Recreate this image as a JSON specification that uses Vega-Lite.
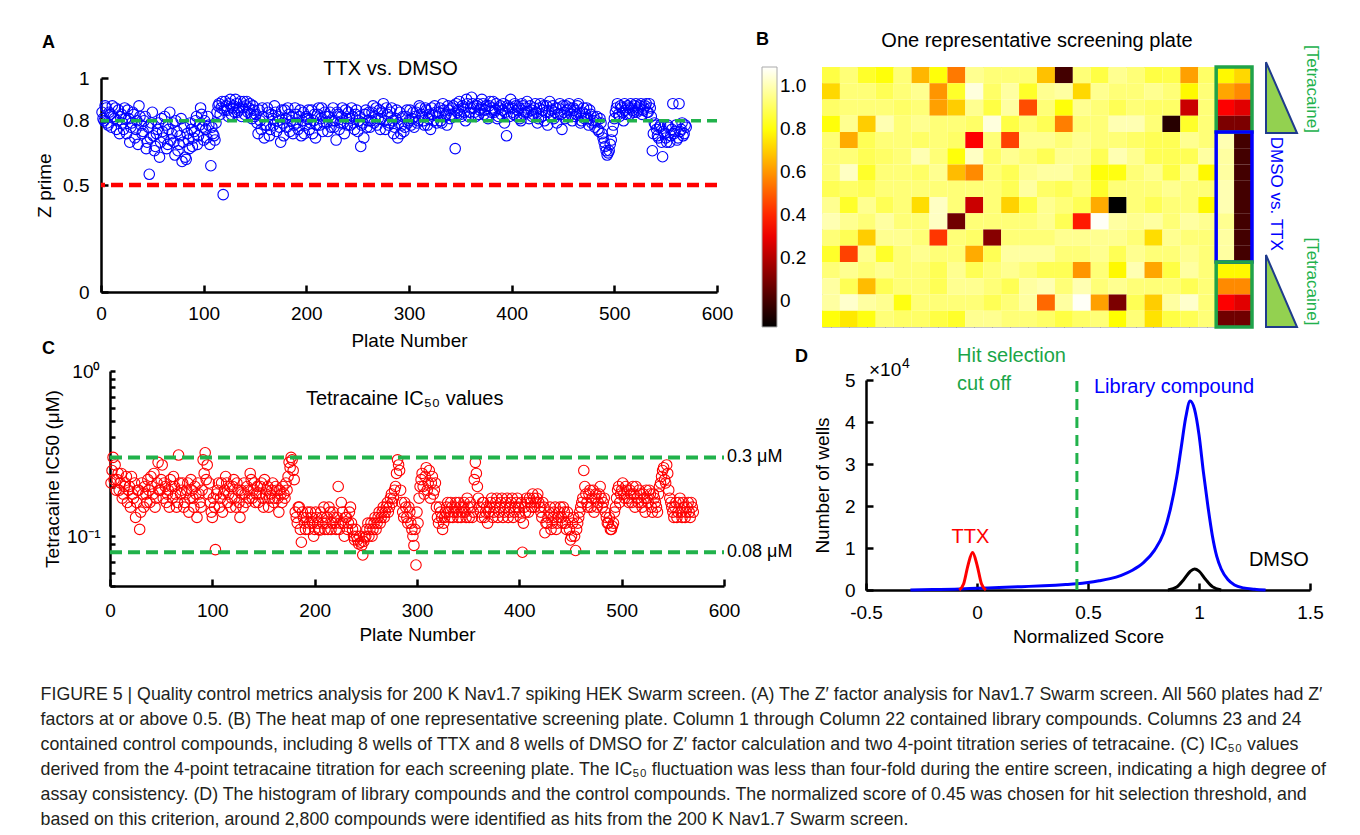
{
"$schema": "https://vega.github.io/schema/vega-lite/v6.json",
"background": "white",
"padding": {"left": 35, "top": 30, "right": 10, "bottom": 10},
"bounds": "flush",
"columns": 2,
"spacing": {"row": 44, "column": 98},
"resolve": {"scale": {"color": "independent"}, "legend": {"color": "independent"}},
"title": {"text": [
"FIGURE 5 | Quality control metrics analysis for 200 K Nav1.7 spiking HEK Swarm screen. (A) The Z′ factor analysis for Nav1.7 Swarm screen. All 560 plates had Z′",
"factors at or above 0.5. (B) The heat map of one representative screening plate. Column 1 through Column 22 contained library compounds. Columns 23 and 24",
"contained control compounds, including 8 wells of TTX and 8 wells of DMSO for Z′ factor calculation and two 4-point titration series of tetracaine. (C) IC₅₀ values",
"derived from the 4-point tetracaine titration for each screening plate. The IC₅₀ fluctuation was less than four-fold during the entire screen, indicating a high degree of",
"assay consistency. (D) The histogram of library compounds and the control compounds. The normalized score of 0.45 was chosen for hit selection threshold, and",
"based on this criterion, around 2,800 compounds were identified as hits from the 200 K Nav1.7 Swarm screen."],
"orient": "bottom", "anchor": "start", "frame": "bounds", "offset": 40, "dx": 5, "fontSize": 17.8, "fontWeight": "normal", "lineHeight": 25, "color": "#231f20", "font": "Liberation Sans"},
"datasets": {
"zp": [{"p":1,"z":0.84},{"p":3,"z":0.80},{"p":5,"z":0.86},{"p":7,"z":0.78},{"p":9,"z":0.83},{"p":11,"z":0.87},{"p":13,"z":0.81},{"p":15,"z":0.76},{"p":17,"z":0.85},{"p":19,"z":0.82},
{"p":21,"z":0.79},{"p":23,"z":0.86},{"p":25,"z":0.74},{"p":27,"z":0.81},{"p":29,"z":0.77},{"p":31,"z":0.84},{"p":33,"z":0.72},{"p":35,"z":0.80},{"p":37,"z":0.87},{"p":39,"z":0.78},
{"p":41,"z":0.75},{"p":43,"z":0.82},{"p":45,"z":0.70},{"p":47,"z":0.55},{"p":49,"z":0.79},{"p":51,"z":0.73},{"p":53,"z":0.68},{"p":55,"z":0.76},{"p":57,"z":0.63},{"p":59,"z":0.81},
{"p":61,"z":0.72},{"p":63,"z":0.78},{"p":65,"z":0.69},{"p":67,"z":0.84},{"p":69,"z":0.74},{"p":71,"z":0.70},{"p":73,"z":0.80},{"p":75,"z":0.66},{"p":77,"z":0.73},{"p":79,"z":0.61},
{"p":81,"z":0.77},{"p":83,"z":0.62},{"p":85,"z":0.71},{"p":87,"z":0.79},{"p":89,"z":0.68},{"p":91,"z":0.75},{"p":93,"z":0.82},{"p":95,"z":0.73},{"p":97,"z":0.86},{"p":99,"z":0.77},
{"p":101,"z":0.80},{"p":103,"z":0.72},{"p":105,"z":0.78},{"p":107,"z":0.59},{"p":109,"z":0.74},{"p":111,"z":0.71},{"p":113,"z":0.84},{"p":115,"z":0.88},{"p":117,"z":0.86},{"p":119,"z":0.455},
{"p":121,"z":0.89},{"p":123,"z":0.85},{"p":125,"z":0.88},{"p":127,"z":0.83},{"p":129,"z":0.87},{"p":131,"z":0.90},{"p":133,"z":0.84},{"p":135,"z":0.86},{"p":137,"z":0.82},{"p":139,"z":0.89},
{"p":141,"z":0.87},{"p":143,"z":0.84},{"p":145,"z":0.88},{"p":147,"z":0.81},{"p":149,"z":0.85},{"p":151,"z":0.83},{"p":153,"z":0.74},{"p":155,"z":0.80},{"p":157,"z":0.86},{"p":159,"z":0.72},
{"p":161,"z":0.78},{"p":163,"z":0.84},{"p":165,"z":0.76},{"p":167,"z":0.81},{"p":169,"z":0.87},{"p":171,"z":0.75},{"p":173,"z":0.82},{"p":175,"z":0.70},{"p":177,"z":0.79},{"p":179,"z":0.85},
{"p":181,"z":0.77},{"p":183,"z":0.83},{"p":185,"z":0.80},{"p":187,"z":0.74},{"p":189,"z":0.86},{"p":191,"z":0.79},{"p":193,"z":0.82},{"p":195,"z":0.73},{"p":197,"z":0.84},{"p":199,"z":0.78},
{"p":201,"z":0.81},{"p":203,"z":0.76},{"p":205,"z":0.85},{"p":207,"z":0.80},{"p":209,"z":0.72},{"p":211,"z":0.83},{"p":213,"z":0.78},{"p":215,"z":0.86},{"p":217,"z":0.79},{"p":219,"z":0.82},
{"p":221,"z":0.75},{"p":223,"z":0.84},{"p":225,"z":0.80},{"p":227,"z":0.77},{"p":229,"z":0.71},{"p":231,"z":0.83},{"p":233,"z":0.79},{"p":235,"z":0.86},{"p":237,"z":0.74},{"p":239,"z":0.81},
{"p":241,"z":0.84},{"p":243,"z":0.78},{"p":245,"z":0.82},{"p":247,"z":0.76},{"p":249,"z":0.85},{"p":251,"z":0.80},{"p":253,"z":0.68},{"p":255,"z":0.79},{"p":257,"z":0.83},{"p":259,"z":0.77},
{"p":261,"z":0.84},{"p":263,"z":0.80},{"p":265,"z":0.87},{"p":267,"z":0.82},{"p":269,"z":0.78},{"p":271,"z":0.85},{"p":273,"z":0.81},{"p":275,"z":0.88},{"p":277,"z":0.76},{"p":279,"z":0.83},
{"p":281,"z":0.79},{"p":283,"z":0.86},{"p":285,"z":0.74},{"p":287,"z":0.81},{"p":289,"z":0.72},{"p":291,"z":0.84},{"p":293,"z":0.78},{"p":295,"z":0.75},{"p":297,"z":0.82},{"p":299,"z":0.79},
{"p":301,"z":0.85},{"p":303,"z":0.81},{"p":305,"z":0.77},{"p":307,"z":0.84},{"p":309,"z":0.80},{"p":311,"z":0.86},{"p":313,"z":0.82},{"p":315,"z":0.78},{"p":317,"z":0.85},{"p":319,"z":0.81},
{"p":321,"z":0.76},{"p":323,"z":0.83},{"p":325,"z":0.87},{"p":327,"z":0.79},{"p":329,"z":0.84},{"p":331,"z":0.80},{"p":333,"z":0.88},{"p":335,"z":0.82},{"p":337,"z":0.78},{"p":339,"z":0.85},
{"p":341,"z":0.83},{"p":343,"z":0.87},{"p":345,"z":0.67},{"p":347,"z":0.84},{"p":349,"z":0.89},{"p":351,"z":0.82},{"p":353,"z":0.86},{"p":355,"z":0.80},{"p":357,"z":0.88},{"p":359,"z":0.84},
{"p":361,"z":0.91},{"p":363,"z":0.86},{"p":365,"z":0.82},{"p":367,"z":0.88},{"p":369,"z":0.85},{"p":371,"z":0.90},{"p":373,"z":0.83},{"p":375,"z":0.87},{"p":377,"z":0.81},{"p":379,"z":0.89},
{"p":381,"z":0.86},{"p":383,"z":0.84},{"p":385,"z":0.88},{"p":387,"z":0.82},{"p":389,"z":0.87},{"p":391,"z":0.85},{"p":393,"z":0.79},{"p":395,"z":0.73},{"p":397,"z":0.86},{"p":399,"z":0.90},
{"p":401,"z":0.84},{"p":403,"z":0.88},{"p":405,"z":0.82},{"p":407,"z":0.86},{"p":409,"z":0.80},{"p":411,"z":0.87},{"p":413,"z":0.84},{"p":415,"z":0.89},{"p":417,"z":0.81},{"p":419,"z":0.85},
{"p":421,"z":0.83},{"p":423,"z":0.88},{"p":425,"z":0.79},{"p":427,"z":0.86},{"p":429,"z":0.82},{"p":431,"z":0.87},{"p":433,"z":0.84},{"p":435,"z":0.78},{"p":437,"z":0.89},{"p":439,"z":0.85},
{"p":441,"z":0.81},{"p":443,"z":0.86},{"p":445,"z":0.83},{"p":447,"z":0.88},{"p":449,"z":0.76},{"p":451,"z":0.84},{"p":453,"z":0.87},{"p":455,"z":0.82},{"p":457,"z":0.86},{"p":459,"z":0.80},
{"p":461,"z":0.85},{"p":463,"z":0.83},{"p":465,"z":0.88},{"p":467,"z":0.79},{"p":469,"z":0.84},{"p":471,"z":0.81},{"p":473,"z":0.86},{"p":475,"z":0.78},{"p":477,"z":0.83},{"p":479,"z":0.80},
{"p":481,"z":0.77},{"p":483,"z":0.82},{"p":485,"z":0.75},{"p":487,"z":0.79},{"p":489,"z":0.72},{"p":491,"z":0.68},{"p":493,"z":0.64},{"p":495,"z":0.66},{"p":497,"z":0.71},{"p":499,"z":0.78},
{"p":501,"z":0.84},{"p":503,"z":0.88},{"p":505,"z":0.82},{"p":507,"z":0.86},{"p":509,"z":0.80},{"p":511,"z":0.85},{"p":513,"z":0.87},{"p":515,"z":0.83},{"p":517,"z":0.86},{"p":519,"z":0.84},
{"p":521,"z":0.88},{"p":523,"z":0.85},{"p":525,"z":0.87},{"p":527,"z":0.83},{"p":529,"z":0.86},{"p":531,"z":0.88},{"p":533,"z":0.84},{"p":535,"z":0.86},{"p":537,"z":0.66},{"p":539,"z":0.79},
{"p":541,"z":0.76},{"p":543,"z":0.72},{"p":545,"z":0.78},{"p":547,"z":0.632},{"p":549,"z":0.74},{"p":551,"z":0.70},{"p":553,"z":0.77},{"p":555,"z":0.73},{"p":557,"z":0.88},{"p":559,"z":0.75},
{"p":561,"z":0.71},{"p":563,"z":0.88},{"p":565,"z":0.76},{"p":567,"z":0.73},{"p":569,"z":0.78},
{"p":2,"z":0.81},{"p":4,"z":0.87},{"p":6,"z":0.79},{"p":8,"z":0.84},{"p":10,"z":0.77},{"p":12,"z":0.82},{"p":14,"z":0.86},{"p":16,"z":0.80},{"p":18,"z":0.74},{"p":20,"z":0.83},
{"p":22,"z":0.76},{"p":24,"z":0.81},{"p":26,"z":0.85},{"p":28,"z":0.70},{"p":30,"z":0.79},{"p":32,"z":0.83},{"p":34,"z":0.76},{"p":36,"z":0.69},{"p":38,"z":0.82},{"p":40,"z":0.74},
{"p":42,"z":0.80},{"p":44,"z":0.67},{"p":46,"z":0.77},{"p":48,"z":0.72},{"p":50,"z":0.84},{"p":52,"z":0.66},{"p":54,"z":0.74},{"p":56,"z":0.79},{"p":58,"z":0.70},{"p":60,"z":0.75},
{"p":62,"z":0.82},{"p":64,"z":0.67},{"p":66,"z":0.76},{"p":68,"z":0.71},{"p":70,"z":0.79},{"p":72,"z":0.64},{"p":74,"z":0.75},{"p":76,"z":0.69},{"p":78,"z":0.81},{"p":80,"z":0.70},
{"p":82,"z":0.63},{"p":84,"z":0.74},{"p":86,"z":0.67},{"p":88,"z":0.76},{"p":90,"z":0.72},{"p":92,"z":0.80},{"p":94,"z":0.69},{"p":96,"z":0.78},{"p":98,"z":0.83},{"p":100,"z":0.71},
{"p":102,"z":0.76},{"p":104,"z":0.82},{"p":106,"z":0.69},{"p":108,"z":0.77},{"p":110,"z":0.73},{"p":112,"z":0.79},{"p":114,"z":0.87},{"p":116,"z":0.83},{"p":118,"z":0.89},{"p":120,"z":0.85},
{"p":122,"z":0.87},{"p":124,"z":0.82},{"p":126,"z":0.90},{"p":128,"z":0.86},{"p":130,"z":0.84},{"p":132,"z":0.88},{"p":134,"z":0.85},{"p":136,"z":0.89},{"p":138,"z":0.86},{"p":140,"z":0.83},
{"p":142,"z":0.89},{"p":144,"z":0.86},{"p":146,"z":0.83},{"p":148,"z":0.87},{"p":150,"z":0.82},{"p":152,"z":0.79},{"p":154,"z":0.85},{"p":156,"z":0.76},{"p":158,"z":0.82},{"p":160,"z":0.78},
{"p":162,"z":0.86},{"p":164,"z":0.73},{"p":166,"z":0.83},{"p":168,"z":0.78},{"p":170,"z":0.84},{"p":172,"z":0.80},{"p":174,"z":0.77},{"p":176,"z":0.85},{"p":178,"z":0.73},{"p":180,"z":0.81},
{"p":182,"z":0.86},{"p":184,"z":0.75},{"p":186,"z":0.82},{"p":188,"z":0.78},{"p":190,"z":0.83},{"p":192,"z":0.76},{"p":194,"z":0.85},{"p":196,"z":0.80},{"p":198,"z":0.74},{"p":200,"z":0.82},
{"p":202,"z":0.85},{"p":204,"z":0.79},{"p":206,"z":0.74},{"p":208,"z":0.83},{"p":210,"z":0.78},{"p":212,"z":0.86},{"p":214,"z":0.81},{"p":216,"z":0.75},{"p":218,"z":0.84},{"p":220,"z":0.79},
{"p":222,"z":0.82},{"p":224,"z":0.77},{"p":226,"z":0.86},{"p":228,"z":0.80},{"p":230,"z":0.84},{"p":232,"z":0.76},{"p":234,"z":0.82},{"p":236,"z":0.79},{"p":238,"z":0.85},{"p":240,"z":0.78},
{"p":242,"z":0.81},{"p":244,"z":0.86},{"p":246,"z":0.79},{"p":248,"z":0.83},{"p":250,"z":0.75},{"p":252,"z":0.82},{"p":254,"z":0.78},{"p":256,"z":0.72},{"p":258,"z":0.85},{"p":260,"z":0.80},
{"p":262,"z":0.77},{"p":264,"z":0.84},{"p":266,"z":0.79},{"p":268,"z":0.86},{"p":270,"z":0.81},{"p":272,"z":0.76},{"p":274,"z":0.84},{"p":276,"z":0.80},{"p":278,"z":0.86},{"p":280,"z":0.78},
{"p":282,"z":0.84},{"p":284,"z":0.80},{"p":286,"z":0.77},{"p":288,"z":0.85},{"p":290,"z":0.79},{"p":292,"z":0.74},{"p":294,"z":0.82},{"p":296,"z":0.77},{"p":298,"z":0.85},{"p":300,"z":0.80},
{"p":302,"z":0.78},{"p":304,"z":0.84},{"p":306,"z":0.82},{"p":308,"z":0.79},{"p":310,"z":0.87},{"p":312,"z":0.83},{"p":314,"z":0.80},{"p":316,"z":0.86},{"p":318,"z":0.78},{"p":320,"z":0.83},
{"p":322,"z":0.86},{"p":324,"z":0.80},{"p":326,"z":0.84},{"p":328,"z":0.82},{"p":330,"z":0.86},{"p":332,"z":0.79},{"p":334,"z":0.85},{"p":336,"z":0.83},{"p":338,"z":0.87},{"p":340,"z":0.81},
{"p":342,"z":0.86},{"p":344,"z":0.82},{"p":346,"z":0.88},{"p":348,"z":0.85},{"p":350,"z":0.83},{"p":352,"z":0.87},{"p":354,"z":0.84},{"p":356,"z":0.90},{"p":358,"z":0.82},{"p":360,"z":0.86},
{"p":362,"z":0.88},{"p":364,"z":0.84},{"p":366,"z":0.87},{"p":368,"z":0.83},{"p":370,"z":0.86},{"p":372,"z":0.88},{"p":374,"z":0.85},{"p":376,"z":0.82},{"p":378,"z":0.87},{"p":380,"z":0.84},
{"p":382,"z":0.89},{"p":384,"z":0.85},{"p":386,"z":0.81},{"p":388,"z":0.86},{"p":390,"z":0.83},{"p":392,"z":0.88},{"p":394,"z":0.84},{"p":396,"z":0.87},{"p":398,"z":0.82},{"p":400,"z":0.86},
{"p":402,"z":0.83},{"p":404,"z":0.87},{"p":406,"z":0.85},{"p":408,"z":0.81},{"p":410,"z":0.88},{"p":412,"z":0.83},{"p":414,"z":0.86},{"p":416,"z":0.84},{"p":418,"z":0.87},{"p":420,"z":0.82},
{"p":422,"z":0.86},{"p":424,"z":0.84},{"p":426,"z":0.81},{"p":428,"z":0.88},{"p":430,"z":0.85},{"p":432,"z":0.80},{"p":434,"z":0.87},{"p":436,"z":0.84},{"p":438,"z":0.82},{"p":440,"z":0.87},
{"p":442,"z":0.84},{"p":444,"z":0.79},{"p":446,"z":0.86},{"p":448,"z":0.83},{"p":450,"z":0.87},{"p":452,"z":0.81},{"p":454,"z":0.85},{"p":456,"z":0.88},{"p":458,"z":0.83},{"p":460,"z":0.86},
{"p":462,"z":0.82},{"p":464,"z":0.87},{"p":466,"z":0.84},{"p":468,"z":0.80},{"p":470,"z":0.86},{"p":472,"z":0.83},{"p":474,"z":0.81},{"p":476,"z":0.85},{"p":478,"z":0.79},{"p":480,"z":0.82},
{"p":482,"z":0.80},{"p":484,"z":0.76},{"p":486,"z":0.81},{"p":488,"z":0.74},{"p":490,"z":0.70},{"p":492,"z":0.66},{"p":494,"z":0.65},{"p":496,"z":0.69},{"p":498,"z":0.75},{"p":500,"z":0.81},
{"p":502,"z":0.86},{"p":504,"z":0.83},{"p":506,"z":0.87},{"p":508,"z":0.84},{"p":510,"z":0.88},{"p":512,"z":0.83},{"p":514,"z":0.86},{"p":516,"z":0.88},{"p":518,"z":0.85},{"p":520,"z":0.87},
{"p":522,"z":0.84},{"p":524,"z":0.86},{"p":526,"z":0.88},{"p":528,"z":0.85},{"p":530,"z":0.87},{"p":532,"z":0.84},{"p":534,"z":0.88},{"p":536,"z":0.82},{"p":538,"z":0.74},{"p":540,"z":0.78},
{"p":542,"z":0.73},{"p":544,"z":0.77},{"p":546,"z":0.70},{"p":548,"z":0.75},{"p":550,"z":0.72},{"p":552,"z":0.78},{"p":554,"z":0.70},{"p":556,"z":0.76},{"p":558,"z":0.74},{"p":560,"z":0.78},
{"p":562,"z":0.72},{"p":564,"z":0.75},{"p":566,"z":0.79},{"p":568,"z":0.74},{"p":570,"z":0.77}],
"ic": [{"p":1,"v":0.21},{"p":3,"v":0.30},{"p":5,"v":0.27},{"p":7,"v":0.22},{"p":9,"v":0.19},{"p":11,"v":0.24},{"p":13,"v":0.18},{"p":15,"v":0.21},{"p":17,"v":0.16},{"p":19,"v":0.20},
{"p":21,"v":0.23},{"p":23,"v":0.17},{"p":25,"v":0.13},{"p":27,"v":0.19},{"p":29,"v":0.11},{"p":31,"v":0.21},{"p":33,"v":0.15},{"p":35,"v":0.18},{"p":37,"v":0.22},{"p":39,"v":0.16},
{"p":41,"v":0.20},{"p":43,"v":0.24},{"p":45,"v":0.17},{"p":47,"v":0.28},{"p":49,"v":0.19},{"p":51,"v":0.27},{"p":53,"v":0.21},{"p":55,"v":0.16},{"p":57,"v":0.19},{"p":59,"v":0.22},
{"p":61,"v":0.17},{"p":63,"v":0.20},{"p":65,"v":0.15},{"p":67,"v":0.31},{"p":69,"v":0.18},{"p":71,"v":0.21},{"p":73,"v":0.16},{"p":75,"v":0.19},{"p":77,"v":0.14},{"p":79,"v":0.22},
{"p":81,"v":0.17},{"p":83,"v":0.20},{"p":85,"v":0.13},{"p":87,"v":0.18},{"p":89,"v":0.15},{"p":91,"v":0.29},{"p":93,"v":0.32},{"p":95,"v":0.27},{"p":97,"v":0.21},{"p":99,"v":0.14},
{"p":101,"v":0.17},{"p":103,"v":0.083},{"p":105,"v":0.19},{"p":107,"v":0.15},{"p":109,"v":0.21},{"p":111,"v":0.18},{"p":113,"v":0.23},{"p":115,"v":0.16},{"p":117,"v":0.20},{"p":119,"v":0.17},
{"p":121,"v":0.22},{"p":123,"v":0.15},{"p":125,"v":0.19},{"p":127,"v":0.13},{"p":129,"v":0.18},{"p":131,"v":0.21},{"p":133,"v":0.16},{"p":135,"v":0.19},{"p":137,"v":0.24},{"p":139,"v":0.17},
{"p":141,"v":0.21},{"p":143,"v":0.18},{"p":145,"v":0.16},{"p":147,"v":0.20},{"p":149,"v":0.17},{"p":151,"v":0.22},{"p":153,"v":0.19},{"p":155,"v":0.15},{"p":157,"v":0.18},{"p":159,"v":0.21},
{"p":161,"v":0.17},{"p":163,"v":0.19},{"p":165,"v":0.14},{"p":167,"v":0.18},{"p":169,"v":0.20},{"p":171,"v":0.17},{"p":173,"v":0.19},{"p":175,"v":0.28},{"p":177,"v":0.30},{"p":179,"v":0.25},
{"p":181,"v":0.14},{"p":183,"v":0.12},{"p":185,"v":0.15},{"p":187,"v":0.092},{"p":189,"v":0.13},{"p":191,"v":0.11},{"p":193,"v":0.14},{"p":195,"v":0.12},{"p":197,"v":0.13},{"p":199,"v":0.10},
{"p":201,"v":0.14},{"p":203,"v":0.12},{"p":205,"v":0.109},{"p":207,"v":0.13},{"p":209,"v":0.15},{"p":211,"v":0.12},{"p":213,"v":0.11},{"p":215,"v":0.14},{"p":217,"v":0.12},{"p":219,"v":0.13},
{"p":221,"v":0.11},{"p":223,"v":0.20},{"p":225,"v":0.12},{"p":227,"v":0.14},{"p":229,"v":0.10},{"p":231,"v":0.13},{"p":233,"v":0.12},{"p":235,"v":0.15},{"p":237,"v":0.11},{"p":239,"v":0.095},
{"p":241,"v":0.10},{"p":243,"v":0.09},{"p":245,"v":0.092},{"p":247,"v":0.077},{"p":249,"v":0.098},{"p":251,"v":0.11},{"p":253,"v":0.10},{"p":255,"v":0.12},{"p":257,"v":0.11},{"p":259,"v":0.13},
{"p":261,"v":0.12},{"p":263,"v":0.14},{"p":265,"v":0.13},{"p":267,"v":0.15},{"p":269,"v":0.14},{"p":271,"v":0.16},{"p":273,"v":0.15},{"p":275,"v":0.18},{"p":277,"v":0.17},{"p":279,"v":0.20},
{"p":281,"v":0.29},{"p":283,"v":0.25},{"p":285,"v":0.16},{"p":287,"v":0.13},{"p":289,"v":0.15},{"p":291,"v":0.12},{"p":293,"v":0.14},{"p":295,"v":0.11},{"p":297,"v":0.088},{"p":299,"v":0.067},
{"p":301,"v":0.12},{"p":303,"v":0.20},{"p":305,"v":0.24},{"p":307,"v":0.18},{"p":309,"v":0.26},{"p":311,"v":0.21},{"p":313,"v":0.17},{"p":315,"v":0.23},{"p":317,"v":0.19},{"p":319,"v":0.15},
{"p":321,"v":0.12},{"p":323,"v":0.14},{"p":325,"v":0.11},{"p":327,"v":0.13},{"p":329,"v":0.15},{"p":331,"v":0.14},{"p":333,"v":0.16},{"p":335,"v":0.13},{"p":337,"v":0.15},{"p":339,"v":0.14},
{"p":341,"v":0.16},{"p":343,"v":0.13},{"p":345,"v":0.15},{"p":347,"v":0.14},{"p":349,"v":0.17},{"p":351,"v":0.13},{"p":353,"v":0.15},{"p":355,"v":0.14},{"p":357,"v":0.28},{"p":359,"v":0.20},
{"p":361,"v":0.15},{"p":363,"v":0.13},{"p":365,"v":0.16},{"p":367,"v":0.14},{"p":369,"v":0.12},{"p":371,"v":0.15},{"p":373,"v":0.17},{"p":375,"v":0.14},{"p":377,"v":0.16},{"p":379,"v":0.13},
{"p":381,"v":0.15},{"p":383,"v":0.17},{"p":385,"v":0.14},{"p":387,"v":0.16},{"p":389,"v":0.13},{"p":391,"v":0.15},{"p":393,"v":0.17},{"p":395,"v":0.14},{"p":397,"v":0.16},{"p":399,"v":0.15},
{"p":401,"v":0.13},{"p":403,"v":0.08},{"p":405,"v":0.15},{"p":407,"v":0.17},{"p":409,"v":0.14},{"p":411,"v":0.16},{"p":413,"v":0.18},{"p":415,"v":0.15},{"p":417,"v":0.17},{"p":419,"v":0.16},
{"p":421,"v":0.14},{"p":423,"v":0.16},{"p":425,"v":0.105},{"p":427,"v":0.12},{"p":429,"v":0.14},{"p":431,"v":0.11},{"p":433,"v":0.13},{"p":435,"v":0.15},{"p":437,"v":0.12},{"p":439,"v":0.14},
{"p":441,"v":0.13},{"p":443,"v":0.15},{"p":445,"v":0.12},{"p":447,"v":0.14},{"p":449,"v":0.11},{"p":451,"v":0.10},{"p":453,"v":0.13},{"p":455,"v":0.082},{"p":457,"v":0.12},{"p":459,"v":0.14},
{"p":461,"v":0.16},{"p":463,"v":0.25},{"p":465,"v":0.18},{"p":467,"v":0.15},{"p":469,"v":0.19},{"p":471,"v":0.17},{"p":473,"v":0.14},{"p":475,"v":0.18},{"p":477,"v":0.16},{"p":479,"v":0.20},
{"p":481,"v":0.15},{"p":483,"v":0.17},{"p":485,"v":0.13},{"p":487,"v":0.12},{"p":489,"v":0.11},{"p":491,"v":0.115},{"p":493,"v":0.14},{"p":495,"v":0.17},{"p":497,"v":0.20},{"p":499,"v":0.18},
{"p":501,"v":0.21},{"p":503,"v":0.17},{"p":505,"v":0.19},{"p":507,"v":0.16},{"p":509,"v":0.18},{"p":511,"v":0.20},{"p":513,"v":0.15},{"p":515,"v":0.17},{"p":517,"v":0.19},{"p":519,"v":0.16},
{"p":521,"v":0.18},{"p":523,"v":0.14},{"p":525,"v":0.17},{"p":527,"v":0.19},{"p":529,"v":0.15},{"p":531,"v":0.18},{"p":533,"v":0.16},{"p":535,"v":0.14},{"p":537,"v":0.20},{"p":539,"v":0.23},
{"p":541,"v":0.26},{"p":543,"v":0.21},{"p":545,"v":0.24},{"p":547,"v":0.17},{"p":549,"v":0.15},{"p":551,"v":0.13},{"p":553,"v":0.16},{"p":555,"v":0.14},{"p":557,"v":0.17},{"p":559,"v":0.13},
{"p":561,"v":0.15},{"p":563,"v":0.14},{"p":565,"v":0.16},{"p":567,"v":0.13},{"p":569,"v":0.15},
{"p":2,"v":0.25},{"p":4,"v":0.22},{"p":6,"v":0.19},{"p":8,"v":0.24},{"p":10,"v":0.21},{"p":12,"v":0.17},{"p":14,"v":0.20},{"p":16,"v":0.23},{"p":18,"v":0.19},{"p":20,"v":0.15},
{"p":22,"v":0.18},{"p":24,"v":0.21},{"p":26,"v":0.16},{"p":28,"v":0.19},{"p":30,"v":0.14},{"p":32,"v":0.18},{"p":34,"v":0.20},{"p":36,"v":0.16},{"p":38,"v":0.19},{"p":40,"v":0.23},
{"p":42,"v":0.18},{"p":44,"v":0.15},{"p":46,"v":0.21},{"p":48,"v":0.19},{"p":50,"v":0.22},{"p":52,"v":0.17},{"p":54,"v":0.20},{"p":56,"v":0.18},{"p":58,"v":0.15},{"p":60,"v":0.20},
{"p":62,"v":0.23},{"p":64,"v":0.18},{"p":66,"v":0.16},{"p":68,"v":0.21},{"p":70,"v":0.19},{"p":72,"v":0.15},{"p":74,"v":0.18},{"p":76,"v":0.21},{"p":78,"v":0.17},{"p":80,"v":0.19},
{"p":82,"v":0.15},{"p":84,"v":0.18},{"p":86,"v":0.21},{"p":88,"v":0.16},{"p":90,"v":0.19},{"p":92,"v":0.24},{"p":94,"v":0.22},{"p":96,"v":0.18},{"p":98,"v":0.16},{"p":100,"v":0.13},
{"p":102,"v":0.15},{"p":104,"v":0.18},{"p":106,"v":0.21},{"p":108,"v":0.17},{"p":110,"v":0.14},{"p":112,"v":0.19},{"p":114,"v":0.21},{"p":116,"v":0.18},{"p":118,"v":0.15},{"p":120,"v":0.20},
{"p":122,"v":0.17},{"p":124,"v":0.21},{"p":126,"v":0.16},{"p":128,"v":0.19},{"p":130,"v":0.15},{"p":132,"v":0.18},{"p":134,"v":0.20},{"p":136,"v":0.17},{"p":138,"v":0.22},{"p":140,"v":0.19},
{"p":142,"v":0.16},{"p":144,"v":0.20},{"p":146,"v":0.18},{"p":148,"v":0.21},{"p":150,"v":0.15},{"p":152,"v":0.18},{"p":154,"v":0.20},{"p":156,"v":0.17},{"p":158,"v":0.19},{"p":160,"v":0.16},
{"p":162,"v":0.20},{"p":164,"v":0.17},{"p":166,"v":0.19},{"p":168,"v":0.16},{"p":170,"v":0.18},{"p":172,"v":0.21},{"p":174,"v":0.23},{"p":176,"v":0.26},{"p":178,"v":0.29},{"p":180,"v":0.22},
{"p":182,"v":0.13},{"p":184,"v":0.15},{"p":186,"v":0.11},{"p":188,"v":0.14},{"p":190,"v":0.12},{"p":192,"v":0.13},{"p":194,"v":0.11},{"p":196,"v":0.14},{"p":198,"v":0.12},{"p":200,"v":0.11},
{"p":202,"v":0.13},{"p":204,"v":0.11},{"p":206,"v":0.14},{"p":208,"v":0.12},{"p":210,"v":0.11},{"p":212,"v":0.13},{"p":214,"v":0.15},{"p":216,"v":0.11},{"p":218,"v":0.14},{"p":220,"v":0.12},
{"p":222,"v":0.13},{"p":224,"v":0.11},{"p":226,"v":0.16},{"p":228,"v":0.12},{"p":230,"v":0.13},{"p":232,"v":0.11},{"p":234,"v":0.14},{"p":236,"v":0.12},{"p":238,"v":0.10},{"p":240,"v":0.11},
{"p":242,"v":0.095},{"p":244,"v":0.10},{"p":246,"v":0.088},{"p":248,"v":0.093},{"p":250,"v":0.10},{"p":252,"v":0.12},{"p":254,"v":0.11},{"p":256,"v":0.10},{"p":258,"v":0.12},{"p":260,"v":0.11},
{"p":262,"v":0.13},{"p":264,"v":0.12},{"p":266,"v":0.14},{"p":268,"v":0.13},{"p":270,"v":0.15},{"p":272,"v":0.14},{"p":274,"v":0.17},{"p":276,"v":0.16},{"p":278,"v":0.19},{"p":280,"v":0.24},
{"p":282,"v":0.27},{"p":284,"v":0.19},{"p":286,"v":0.14},{"p":288,"v":0.16},{"p":290,"v":0.13},{"p":292,"v":0.15},{"p":294,"v":0.12},{"p":296,"v":0.10},{"p":298,"v":0.11},{"p":300,"v":0.14},
{"p":302,"v":0.17},{"p":304,"v":0.22},{"p":306,"v":0.20},{"p":308,"v":0.23},{"p":310,"v":0.19},{"p":312,"v":0.25},{"p":314,"v":0.21},{"p":316,"v":0.18},{"p":318,"v":0.21},{"p":320,"v":0.13},
{"p":322,"v":0.15},{"p":324,"v":0.13},{"p":326,"v":0.12},{"p":328,"v":0.14},{"p":330,"v":0.16},{"p":332,"v":0.13},{"p":334,"v":0.15},{"p":336,"v":0.14},{"p":338,"v":0.16},{"p":340,"v":0.13},
{"p":342,"v":0.15},{"p":344,"v":0.14},{"p":346,"v":0.16},{"p":348,"v":0.13},{"p":350,"v":0.15},{"p":352,"v":0.16},{"p":354,"v":0.13},{"p":356,"v":0.22},{"p":358,"v":0.24},{"p":360,"v":0.17},
{"p":362,"v":0.14},{"p":364,"v":0.16},{"p":366,"v":0.13},{"p":368,"v":0.15},{"p":370,"v":0.14},{"p":372,"v":0.16},{"p":374,"v":0.13},{"p":376,"v":0.15},{"p":378,"v":0.17},{"p":380,"v":0.14},
{"p":382,"v":0.16},{"p":384,"v":0.13},{"p":386,"v":0.15},{"p":388,"v":0.17},{"p":390,"v":0.14},{"p":392,"v":0.16},{"p":394,"v":0.13},{"p":396,"v":0.15},{"p":398,"v":0.17},{"p":400,"v":0.14},
{"p":402,"v":0.16},{"p":404,"v":0.12},{"p":406,"v":0.14},{"p":408,"v":0.16},{"p":410,"v":0.17},{"p":412,"v":0.15},{"p":414,"v":0.17},{"p":416,"v":0.16},{"p":418,"v":0.18},{"p":420,"v":0.15},
{"p":422,"v":0.13},{"p":424,"v":0.15},{"p":426,"v":0.12},{"p":428,"v":0.13},{"p":430,"v":0.15},{"p":432,"v":0.12},{"p":434,"v":0.14},{"p":436,"v":0.11},{"p":438,"v":0.13},{"p":440,"v":0.15},
{"p":442,"v":0.12},{"p":444,"v":0.14},{"p":446,"v":0.11},{"p":448,"v":0.13},{"p":450,"v":0.095},{"p":452,"v":0.12},{"p":454,"v":0.10},{"p":456,"v":0.11},{"p":458,"v":0.13},{"p":460,"v":0.15},
{"p":462,"v":0.17},{"p":464,"v":0.20},{"p":466,"v":0.16},{"p":468,"v":0.18},{"p":470,"v":0.15},{"p":472,"v":0.19},{"p":474,"v":0.17},{"p":476,"v":0.15},{"p":478,"v":0.18},{"p":480,"v":0.17},
{"p":482,"v":0.16},{"p":484,"v":0.14},{"p":486,"v":0.12},{"p":488,"v":0.13},{"p":490,"v":0.11},{"p":492,"v":0.12},{"p":494,"v":0.15},{"p":496,"v":0.19},{"p":498,"v":0.16},{"p":500,"v":0.19},
{"p":502,"v":0.18},{"p":504,"v":0.20},{"p":506,"v":0.17},{"p":508,"v":0.19},{"p":510,"v":0.16},{"p":512,"v":0.18},{"p":514,"v":0.20},{"p":516,"v":0.16},{"p":518,"v":0.18},{"p":520,"v":0.15},
{"p":522,"v":0.17},{"p":524,"v":0.19},{"p":526,"v":0.16},{"p":528,"v":0.18},{"p":530,"v":0.14},{"p":532,"v":0.17},{"p":534,"v":0.15},{"p":536,"v":0.18},{"p":538,"v":0.21},{"p":540,"v":0.25},
{"p":542,"v":0.22},{"p":544,"v":0.27},{"p":546,"v":0.19},{"p":548,"v":0.16},{"p":550,"v":0.14},{"p":552,"v":0.15},{"p":554,"v":0.13},{"p":556,"v":0.16},{"p":558,"v":0.14},{"p":560,"v":0.16},
{"p":562,"v":0.13},{"p":564,"v":0.15},{"p":566,"v":0.14},{"p":568,"v":0.16},{"p":570,"v":0.14}],
"plate": [
{"r":1,"c":1,"v":0.87},{"r":1,"c":2,"v":0.93},{"r":1,"c":3,"v":0.84},{"r":1,"c":4,"v":0.8},{"r":1,"c":5,"v":0.93},{"r":1,"c":6,"v":0.66},{"r":1,"c":7,"v":0.8},{"r":1,"c":8,"v":0.55},{"r":1,"c":9,"v":0.96},{"r":1,"c":10,"v":0.93},{"r":1,"c":11,"v":0.93},{"r":1,"c":12,"v":0.93},{"r":1,"c":13,"v":0.68},{"r":1,"c":14,"v":0.0},{"r":1,"c":15,"v":0.93},{"r":1,"c":16,"v":0.87},{"r":1,"c":17,"v":0.96},{"r":1,"c":18,"v":0.93},{"r":1,"c":19,"v":0.87},{"r":1,"c":20,"v":0.88},{"r":1,"c":21,"v":0.62},{"r":1,"c":22,"v":0.91},{"r":1,"c":23,"v":0.78},{"r":1,"c":24,"v":0.72},
{"r":2,"c":1,"v":0.72},{"r":2,"c":2,"v":0.93},{"r":2,"c":3,"v":0.93},{"r":2,"c":4,"v":0.89},{"r":2,"c":5,"v":0.93},{"r":2,"c":6,"v":0.96},{"r":2,"c":7,"v":0.6},{"r":2,"c":8,"v":0.84},{"r":2,"c":9,"v":1.05},{"r":2,"c":10,"v":0.91},{"r":2,"c":11,"v":0.98},{"r":2,"c":12,"v":0.84},{"r":2,"c":13,"v":0.96},{"r":2,"c":14,"v":0.98},{"r":2,"c":15,"v":0.72},{"r":2,"c":16,"v":0.96},{"r":2,"c":17,"v":0.93},{"r":2,"c":18,"v":0.93},{"r":2,"c":19,"v":0.96},{"r":2,"c":20,"v":0.93},{"r":2,"c":21,"v":0.78},{"r":2,"c":22,"v":0.93},{"r":2,"c":23,"v":0.63},{"r":2,"c":24,"v":0.58},
{"r":3,"c":1,"v":0.91},{"r":3,"c":2,"v":0.93},{"r":3,"c":3,"v":0.93},{"r":3,"c":4,"v":0.93},{"r":3,"c":5,"v":0.91},{"r":3,"c":6,"v":0.93},{"r":3,"c":7,"v":0.62},{"r":3,"c":8,"v":0.7},{"r":3,"c":9,"v":0.96},{"r":3,"c":10,"v":0.87},{"r":3,"c":11,"v":0.98},{"r":3,"c":12,"v":0.47},{"r":3,"c":13,"v":0.93},{"r":3,"c":14,"v":0.8},{"r":3,"c":15,"v":0.96},{"r":3,"c":16,"v":0.93},{"r":3,"c":17,"v":0.89},{"r":3,"c":18,"v":0.93},{"r":3,"c":19,"v":0.91},{"r":3,"c":20,"v":0.91},{"r":3,"c":21,"v":0.24},{"r":3,"c":22,"v":0.93},{"r":3,"c":23,"v":0.33},{"r":3,"c":24,"v":0.28},
{"r":4,"c":1,"v":0.8},{"r":4,"c":2,"v":0.96},{"r":4,"c":3,"v":0.7},{"r":4,"c":4,"v":1.0},{"r":4,"c":5,"v":0.93},{"r":4,"c":6,"v":0.96},{"r":4,"c":7,"v":0.93},{"r":4,"c":8,"v":0.93},{"r":4,"c":9,"v":0.91},{"r":4,"c":10,"v":1.05},{"r":4,"c":11,"v":0.87},{"r":4,"c":12,"v":0.93},{"r":4,"c":13,"v":0.89},{"r":4,"c":14,"v":0.56},{"r":4,"c":15,"v":0.93},{"r":4,"c":16,"v":0.93},{"r":4,"c":17,"v":1.0},{"r":4,"c":18,"v":1.0},{"r":4,"c":19,"v":0.93},{"r":4,"c":20,"v":-0.05},{"r":4,"c":21,"v":0.84},{"r":4,"c":22,"v":0.93},{"r":4,"c":23,"v":0.1},{"r":4,"c":24,"v":0.1},
{"r":5,"c":1,"v":0.93},{"r":5,"c":2,"v":0.64},{"r":5,"c":3,"v":0.89},{"r":5,"c":4,"v":0.93},{"r":5,"c":5,"v":0.93},{"r":5,"c":6,"v":0.91},{"r":5,"c":7,"v":0.93},{"r":5,"c":8,"v":0.91},{"r":5,"c":9,"v":0.33},{"r":5,"c":10,"v":0.93},{"r":5,"c":11,"v":0.45},{"r":5,"c":12,"v":0.96},{"r":5,"c":13,"v":0.96},{"r":5,"c":14,"v":0.93},{"r":5,"c":15,"v":0.96},{"r":5,"c":16,"v":0.93},{"r":5,"c":17,"v":0.93},{"r":5,"c":18,"v":0.91},{"r":5,"c":19,"v":0.89},{"r":5,"c":20,"v":0.89},{"r":5,"c":21,"v":0.96},{"r":5,"c":22,"v":0.93},{"r":5,"c":23,"v":1.0},{"r":5,"c":24,"v":0.0},
{"r":6,"c":1,"v":0.93},{"r":6,"c":2,"v":0.93},{"r":6,"c":3,"v":0.89},{"r":6,"c":4,"v":0.91},{"r":6,"c":5,"v":0.93},{"r":6,"c":6,"v":1.0},{"r":6,"c":7,"v":0.93},{"r":6,"c":8,"v":0.8},{"r":6,"c":9,"v":1.02},{"r":6,"c":10,"v":0.91},{"r":6,"c":11,"v":0.96},{"r":6,"c":12,"v":0.93},{"r":6,"c":13,"v":0.89},{"r":6,"c":14,"v":0.96},{"r":6,"c":15,"v":0.96},{"r":6,"c":16,"v":0.89},{"r":6,"c":17,"v":1.0},{"r":6,"c":18,"v":0.96},{"r":6,"c":19,"v":0.89},{"r":6,"c":20,"v":0.89},{"r":6,"c":21,"v":0.89},{"r":6,"c":22,"v":0.98},{"r":6,"c":23,"v":0.98},{"r":6,"c":24,"v":0.0},
{"r":7,"c":1,"v":0.93},{"r":7,"c":2,"v":1.02},{"r":7,"c":3,"v":0.84},{"r":7,"c":4,"v":0.93},{"r":7,"c":5,"v":0.93},{"r":7,"c":6,"v":0.91},{"r":7,"c":7,"v":0.96},{"r":7,"c":8,"v":0.67},{"r":7,"c":9,"v":0.58},{"r":7,"c":10,"v":0.93},{"r":7,"c":11,"v":0.89},{"r":7,"c":12,"v":0.96},{"r":7,"c":13,"v":0.98},{"r":7,"c":14,"v":0.98},{"r":7,"c":15,"v":0.93},{"r":7,"c":16,"v":0.8},{"r":7,"c":17,"v":0.81},{"r":7,"c":18,"v":0.93},{"r":7,"c":19,"v":0.96},{"r":7,"c":20,"v":0.87},{"r":7,"c":21,"v":0.96},{"r":7,"c":22,"v":0.78},{"r":7,"c":23,"v":0.98},{"r":7,"c":24,"v":0.0},
{"r":8,"c":1,"v":0.89},{"r":8,"c":2,"v":0.91},{"r":8,"c":3,"v":0.89},{"r":8,"c":4,"v":0.93},{"r":8,"c":5,"v":0.93},{"r":8,"c":6,"v":0.93},{"r":8,"c":7,"v":0.93},{"r":8,"c":8,"v":0.93},{"r":8,"c":9,"v":0.93},{"r":8,"c":10,"v":0.93},{"r":8,"c":11,"v":0.89},{"r":8,"c":12,"v":0.98},{"r":8,"c":13,"v":0.91},{"r":8,"c":14,"v":0.89},{"r":8,"c":15,"v":0.93},{"r":8,"c":16,"v":0.84},{"r":8,"c":17,"v":0.93},{"r":8,"c":18,"v":0.93},{"r":8,"c":19,"v":0.93},{"r":8,"c":20,"v":0.96},{"r":8,"c":21,"v":0.93},{"r":8,"c":22,"v":0.93},{"r":8,"c":23,"v":1.0},{"r":8,"c":24,"v":0.0},
{"r":9,"c":1,"v":0.96},{"r":9,"c":2,"v":0.84},{"r":9,"c":3,"v":0.96},{"r":9,"c":4,"v":0.89},{"r":9,"c":5,"v":0.93},{"r":9,"c":6,"v":0.73},{"r":9,"c":7,"v":1.02},{"r":9,"c":8,"v":0.93},{"r":9,"c":9,"v":0.24},{"r":9,"c":10,"v":0.93},{"r":9,"c":11,"v":0.71},{"r":9,"c":12,"v":0.87},{"r":9,"c":13,"v":0.96},{"r":9,"c":14,"v":0.93},{"r":9,"c":15,"v":0.89},{"r":9,"c":16,"v":0.64},{"r":9,"c":17,"v":-0.12},{"r":9,"c":18,"v":0.93},{"r":9,"c":19,"v":0.89},{"r":9,"c":20,"v":0.93},{"r":9,"c":21,"v":0.93},{"r":9,"c":22,"v":0.78},{"r":9,"c":23,"v":1.0},{"r":9,"c":24,"v":0.0},
{"r":10,"c":1,"v":1.0},{"r":10,"c":2,"v":0.96},{"r":10,"c":3,"v":0.93},{"r":10,"c":4,"v":0.98},{"r":10,"c":5,"v":0.93},{"r":10,"c":6,"v":0.93},{"r":10,"c":7,"v":1.02},{"r":10,"c":8,"v":0.08},{"r":10,"c":9,"v":0.93},{"r":10,"c":10,"v":0.93},{"r":10,"c":11,"v":0.93},{"r":10,"c":12,"v":0.93},{"r":10,"c":13,"v":0.96},{"r":10,"c":14,"v":0.89},{"r":10,"c":15,"v":0.38},{"r":10,"c":16,"v":1.08},{"r":10,"c":17,"v":0.98},{"r":10,"c":18,"v":0.96},{"r":10,"c":19,"v":0.98},{"r":10,"c":20,"v":0.93},{"r":10,"c":21,"v":0.98},{"r":10,"c":22,"v":0.96},{"r":10,"c":23,"v":0.96},{"r":10,"c":24,"v":0.0},
{"r":11,"c":1,"v":0.93},{"r":11,"c":2,"v":0.89},{"r":11,"c":3,"v":0.7},{"r":11,"c":4,"v":0.96},{"r":11,"c":5,"v":0.96},{"r":11,"c":6,"v":0.93},{"r":11,"c":7,"v":0.43},{"r":11,"c":8,"v":0.93},{"r":11,"c":9,"v":0.91},{"r":11,"c":10,"v":0.12},{"r":11,"c":11,"v":0.93},{"r":11,"c":12,"v":0.93},{"r":11,"c":13,"v":0.93},{"r":11,"c":14,"v":0.96},{"r":11,"c":15,"v":0.96},{"r":11,"c":16,"v":0.96},{"r":11,"c":17,"v":0.96},{"r":11,"c":18,"v":0.93},{"r":11,"c":19,"v":0.73},{"r":11,"c":20,"v":0.96},{"r":11,"c":21,"v":0.93},{"r":11,"c":22,"v":0.93},{"r":11,"c":23,"v":0.98},{"r":11,"c":24,"v":0.0},
{"r":12,"c":1,"v":0.84},{"r":12,"c":2,"v":0.45},{"r":12,"c":3,"v":0.96},{"r":12,"c":4,"v":0.84},{"r":12,"c":5,"v":0.93},{"r":12,"c":6,"v":0.96},{"r":12,"c":7,"v":0.93},{"r":12,"c":8,"v":0.93},{"r":12,"c":9,"v":0.64},{"r":12,"c":10,"v":0.89},{"r":12,"c":11,"v":0.98},{"r":12,"c":12,"v":0.98},{"r":12,"c":13,"v":0.98},{"r":12,"c":14,"v":0.93},{"r":12,"c":15,"v":0.93},{"r":12,"c":16,"v":0.96},{"r":12,"c":17,"v":0.89},{"r":12,"c":18,"v":0.96},{"r":12,"c":19,"v":0.93},{"r":12,"c":20,"v":0.93},{"r":12,"c":21,"v":0.96},{"r":12,"c":22,"v":0.93},{"r":12,"c":23,"v":0.98},{"r":12,"c":24,"v":0.0},
{"r":13,"c":1,"v":0.93},{"r":13,"c":2,"v":0.96},{"r":13,"c":3,"v":0.93},{"r":13,"c":4,"v":0.96},{"r":13,"c":5,"v":0.93},{"r":13,"c":6,"v":0.93},{"r":13,"c":7,"v":0.89},{"r":13,"c":8,"v":0.96},{"r":13,"c":9,"v":0.89},{"r":13,"c":10,"v":0.93},{"r":13,"c":11,"v":0.96},{"r":13,"c":12,"v":0.93},{"r":13,"c":13,"v":0.89},{"r":13,"c":14,"v":0.89},{"r":13,"c":15,"v":0.6},{"r":13,"c":16,"v":0.93},{"r":13,"c":17,"v":0.78},{"r":13,"c":18,"v":1.0},{"r":13,"c":19,"v":0.63},{"r":13,"c":20,"v":0.87},{"r":13,"c":21,"v":0.98},{"r":13,"c":22,"v":0.93},{"r":13,"c":23,"v":0.78},{"r":13,"c":24,"v":0.78},
{"r":14,"c":1,"v":0.98},{"r":14,"c":2,"v":0.89},{"r":14,"c":3,"v":0.67},{"r":14,"c":4,"v":0.89},{"r":14,"c":5,"v":0.93},{"r":14,"c":6,"v":0.93},{"r":14,"c":7,"v":0.89},{"r":14,"c":8,"v":0.96},{"r":14,"c":9,"v":0.96},{"r":14,"c":10,"v":0.93},{"r":14,"c":11,"v":0.89},{"r":14,"c":12,"v":0.98},{"r":14,"c":13,"v":1.0},{"r":14,"c":14,"v":0.93},{"r":14,"c":15,"v":1.0},{"r":14,"c":16,"v":0.93},{"r":14,"c":17,"v":0.96},{"r":14,"c":18,"v":0.93},{"r":14,"c":19,"v":0.93},{"r":14,"c":20,"v":0.93},{"r":14,"c":21,"v":0.89},{"r":14,"c":22,"v":0.93},{"r":14,"c":23,"v":0.58},{"r":14,"c":24,"v":0.58},
{"r":15,"c":1,"v":0.98},{"r":15,"c":2,"v":1.03},{"r":15,"c":3,"v":0.98},{"r":15,"c":4,"v":0.96},{"r":15,"c":5,"v":0.81},{"r":15,"c":6,"v":0.93},{"r":15,"c":7,"v":0.93},{"r":15,"c":8,"v":0.93},{"r":15,"c":9,"v":0.93},{"r":15,"c":10,"v":0.89},{"r":15,"c":11,"v":0.93},{"r":15,"c":12,"v":0.98},{"r":15,"c":13,"v":0.52},{"r":15,"c":14,"v":0.98},{"r":15,"c":15,"v":1.08},{"r":15,"c":16,"v":0.62},{"r":15,"c":17,"v":0.1},{"r":15,"c":18,"v":0.89},{"r":15,"c":19,"v":0.7},{"r":15,"c":20,"v":0.98},{"r":15,"c":21,"v":1.03},{"r":15,"c":22,"v":0.93},{"r":15,"c":23,"v":0.33},{"r":15,"c":24,"v":0.28},
{"r":16,"c":1,"v":0.8},{"r":16,"c":2,"v":0.75},{"r":16,"c":3,"v":0.81},{"r":16,"c":4,"v":0.93},{"r":16,"c":5,"v":0.91},{"r":16,"c":6,"v":0.91},{"r":16,"c":7,"v":0.87},{"r":16,"c":8,"v":0.84},{"r":16,"c":9,"v":0.96},{"r":16,"c":10,"v":0.96},{"r":16,"c":11,"v":0.93},{"r":16,"c":12,"v":0.93},{"r":16,"c":13,"v":0.91},{"r":16,"c":14,"v":0.87},{"r":16,"c":15,"v":0.91},{"r":16,"c":16,"v":0.93},{"r":16,"c":17,"v":0.79},{"r":16,"c":18,"v":0.93},{"r":16,"c":19,"v":0.74},{"r":16,"c":20,"v":0.87},{"r":16,"c":21,"v":0.89},{"r":16,"c":22,"v":0.93},{"r":16,"c":23,"v":0.08},{"r":16,"c":24,"v":0.08}],
"hist": [
{"g":"Library","s":-0.3,"n":0},{"g":"Library","s":-0.2,"n":0.01},{"g":"Library","s":-0.1,"n":0.02},{"g":"Library","s":0,"n":0.04},{"g":"Library","s":0.1,"n":0.06},{"g":"Library","s":0.2,"n":0.08},{"g":"Library","s":0.3,"n":0.1},{"g":"Library","s":0.4,"n":0.13},{"g":"Library","s":0.45,"n":0.15},{"g":"Library","s":0.5,"n":0.18},{"g":"Library","s":0.55,"n":0.22},{"g":"Library","s":0.6,"n":0.27},{"g":"Library","s":0.65,"n":0.35},{"g":"Library","s":0.7,"n":0.47},{"g":"Library","s":0.75,"n":0.65},{"g":"Library","s":0.8,"n":0.95},{"g":"Library","s":0.84,"n":1.35},{"g":"Library","s":0.87,"n":1.9},{"g":"Library","s":0.9,"n":2.7},{"g":"Library","s":0.92,"n":3.4},{"g":"Library","s":0.94,"n":4.1},{"g":"Library","s":0.96,"n":4.5},{"g":"Library","s":0.98,"n":4.3},{"g":"Library","s":1.0,"n":3.7},{"g":"Library","s":1.02,"n":2.8},{"g":"Library","s":1.04,"n":2.0},{"g":"Library","s":1.06,"n":1.3},{"g":"Library","s":1.08,"n":0.8},{"g":"Library","s":1.1,"n":0.5},{"g":"Library","s":1.13,"n":0.25},{"g":"Library","s":1.16,"n":0.12},{"g":"Library","s":1.2,"n":0.05},{"g":"Library","s":1.25,"n":0.02},{"g":"Library","s":1.3,"n":0},
{"g":"DMSO","s":0.86,"n":0},{"g":"DMSO","s":0.9,"n":0.07},{"g":"DMSO","s":0.93,"n":0.24},{"g":"DMSO","s":0.96,"n":0.44},{"g":"DMSO","s":0.98,"n":0.5},{"g":"DMSO","s":1.0,"n":0.45},{"g":"DMSO","s":1.03,"n":0.25},{"g":"DMSO","s":1.06,"n":0.08},{"g":"DMSO","s":1.1,"n":0},
{"g":"TTX","s":-0.08,"n":0},{"g":"TTX","s":-0.06,"n":0.15},{"g":"TTX","s":-0.04,"n":0.6},{"g":"TTX","s":-0.02,"n":0.89},{"g":"TTX","s":0.0,"n":0.6},{"g":"TTX","s":0.02,"n":0.15},{"g":"TTX","s":0.04,"n":0}],
"tri": [{"t":"top","x":0,"y":-0.3,"y2":4.06},{"t":"top","x":1,"y":4.06,"y2":4.06},{"t":"bot","x":0,"y":11.57,"y2":16},{"t":"bot","x":1,"y":16,"y2":16}],
"one": [{}]
},
"concat": [
 {"width": 616, "height": 225,
  "layer": [
   {"data": {"name": "zp"},
    "mark": {"type": "point", "shape": "circle", "filled": false, "color": "#0000ff", "size": 110, "strokeWidth": 1.1, "opacity": 1},
    "encoding": {
     "x": {"field": "p", "type": "quantitative", "scale": {"domain": [0, 600], "nice": false}, "axis": {"values": [0,100,200,300,400,500,600], "title": "Plate Number", "labelPadding": 19, "titlePadding": 8}},
     "y": {"field": "z", "type": "quantitative", "scale": {"domain": [0, 1], "range": [225, 11], "nice": false}, "axis": {"values": [0,0.5,0.8,1], "labelExpr": "'' + datum.value", "title": "Z prime", "labelPadding": 19, "titlePadding": 8}}}},
   {"data": {"name": "one"}, "mark": {"type": "rule", "color": "#21b24b", "strokeWidth": 3.5, "strokeDash": [10, 6]}, "encoding": {"y": {"datum": 0.8}}},
   {"data": {"name": "one"}, "mark": {"type": "rule", "color": "#ff0000", "strokeWidth": 4.5, "strokeDash": [12, 6]}, "encoding": {"y": {"datum": 0.5}}},
   {"data": {"name": "one"}, "mark": {"type": "text", "fontSize": 20, "dy": -9}, "encoding": {"x": {"datum": 282}, "y": {"datum": 1}, "text": {"value": "TTX vs. DMSO"}}},
   {"data": {"name": "one"}, "mark": {"type": "text", "fontSize": 18, "fontWeight": "bold", "align": "left", "dx": -59, "dy": -35}, "encoding": {"x": {"datum": 0}, "y": {"datum": 1}, "text": {"value": "A"}}}
  ]},
 {"width": 430, "height": 260,
  "view": {"stroke": "#c8c8c8", "strokeWidth": 1},
  "layer": [
   {"layer": [
    {"data": {"name": "plate"}, "mark": {"type": "rect", "width": 17.95, "height": 16.3},
     "encoding": {
      "x": {"field": "c", "type": "quantitative", "scale": {"domain": [0.5, 24.5], "nice": false, "zero": false}, "axis": {"orient": "top", "values": [1,2,3,4,5,6,7,8,9,10,11,12,13,14,15,16,17,18,19,20,21,22,23,24], "labels": false, "title": null, "domain": false, "tickSize": -4, "tickColor": "#8c8c8c", "tickWidth": 1}},
      "y": {"field": "r", "type": "quantitative", "scale": {"domain": [0.5, 16.5], "reverse": true, "nice": false, "zero": false}, "axis": {"orient": "left", "values": [1,2,3,4,5,6,7,8,9,10,11,12,13,14,15,16], "labels": false, "title": null, "domain": false, "tickSize": -4, "tickColor": "#8c8c8c", "tickWidth": 1}},
      "color": {"field": "v", "type": "quantitative",
        "scale": {"domain": [-0.12, 0.334, 0.79, 1.09], "range": ["#000000", "#ff0000", "#ffff00", "#ffffff"], "interpolate": "rgb"},
        "legend": {"orient": "left", "title": null, "gradientLength": 260, "gradientThickness": 15, "values": [0,0.2,0.4,0.6,0.8,1.0], "labelExpr": "datum.value == 0 ? '0' : format(datum.value, '.1f')", "labelFontSize": 19, "labelFont": "Liberation Sans", "labelColor": "#000", "offset": 14, "gradientStrokeColor": "#aaaaaa", "gradientStrokeWidth": 1, "labelOffset": 3}}}},
    {"data": {"name": "one"}, "mark": {"type": "rect", "filled": false, "stroke": "#1fa34a", "strokeWidth": 3.5},
     "encoding": {
      "x": {"datum": 22.5, "axis": {"orient": "bottom", "values": [1,2,3,4,5,6,7,8,9,10,11,12,13,14,15,16,17,18,19,20,21,22,23,24], "labels": false, "title": null, "domain": false, "tickSize": -4, "tickColor": "#8c8c8c", "tickWidth": 1}},
      "x2": {"datum": 24.5},
      "y": {"datum": 0.5, "axis": {"orient": "right", "values": [1,2,3,4,5,6,7,8,9,10,11,12,13,14,15,16], "labels": false, "title": null, "domain": false, "tickSize": -4, "tickColor": "#8c8c8c", "tickWidth": 1}},
      "y2": {"datum": 4.5}}},
    {"data": {"name": "one"}, "mark": {"type": "rect", "filled": false, "stroke": "#0000ff", "strokeWidth": 3.5},
     "encoding": {"x": {"datum": 22.5, "axis": null}, "x2": {"datum": 24.5}, "y": {"datum": 4.5, "axis": null}, "y2": {"datum": 12.5}}},
    {"data": {"name": "one"}, "mark": {"type": "rect", "filled": false, "stroke": "#1fa34a", "strokeWidth": 3.5},
     "encoding": {"x": {"datum": 22.5, "axis": null}, "x2": {"datum": 24.5}, "y": {"datum": 12.5, "axis": null}, "y2": {"datum": 16.5}}},
    {"data": {"name": "one"}, "mark": {"type": "text", "fontSize": 20, "dy": -26},
     "encoding": {"x": {"datum": 12.5, "axis": null}, "y": {"datum": 0.5, "axis": null}, "text": {"value": "One representative screening plate"}}},
    {"data": {"name": "one"}, "mark": {"type": "text", "fontSize": 18, "fontWeight": "bold", "align": "left", "dx": -75, "dy": -27},
     "encoding": {"x": {"datum": 1, "axis": null}, "y": {"datum": 0.5, "axis": null}, "text": {"value": "B"}}}
   ],
   "resolve": {"axis": {"x": "independent", "y": "independent"}}},
   {"layer": [
    {"data": {"name": "tri"},
     "mark": {"type": "area", "fill": "#93d150", "stroke": "#1f3b8c", "strokeWidth": 2, "fillOpacity": 1, "orient": "vertical"},
     "encoding": {
      "x": {"field": "x", "type": "quantitative", "scale": {"domain": [0, 1], "range": [444, 475], "nice": false, "zero": false}, "axis": null},
      "y": {"field": "y", "type": "quantitative", "scale": {"domain": [0, 16], "range": [0, 260], "nice": false, "zero": false}, "axis": null},
      "y2": {"field": "y2"},
      "detail": {"field": "t"}}},
    {"data": {"name": "one"}, "mark": {"type": "text", "angle": 90, "fontSize": 17, "color": "#22b14c"}, "encoding": {"x": {"datum": 1.48, "axis": null}, "y": {"datum": 1.35, "axis": null}, "text": {"value": "[Tetracaine]"}}},
    {"data": {"name": "one"}, "mark": {"type": "text", "angle": 90, "fontSize": 17, "color": "#0000ff"}, "encoding": {"x": {"datum": 0.32, "axis": null}, "y": {"datum": 7.8, "axis": null}, "text": {"value": "DMSO vs. TTX"}}},
    {"data": {"name": "one"}, "mark": {"type": "text", "angle": 90, "fontSize": 17, "color": "#22b14c"}, "encoding": {"x": {"datum": 1.48, "axis": null}, "y": {"datum": 13.2, "axis": null}, "text": {"value": "[Tetracaine]"}}}
   ]}
  ],
  "resolve": {"scale": {"x": "independent", "y": "independent"}}},
 {"width": 623, "height": 215,
  "layer": [
   {"data": {"name": "ic"},
    "mark": {"type": "point", "shape": "circle", "filled": false, "color": "#ff0000", "size": 110, "strokeWidth": 1.1, "opacity": 1},
    "encoding": {
     "x": {"field": "p", "type": "quantitative", "scale": {"domain": [0, 600], "range": [9, 623], "nice": false}, "axis": {"values": [0,100,200,300,400,500,600], "title": "Plate Number", "labelPadding": 22, "titlePadding": 5}},
     "y": {"field": "v", "type": "quantitative", "scale": {"type": "log", "domain": [0.05, 1], "nice": false}, "axis": {"offset": -9, "values": [0.05,0.06,0.07,0.08,0.09,0.1,0.2,0.3,0.4,0.5,0.6,0.7,0.8,0.9,1], "labelExpr": "datum.value == 1 ? '10⁰' : (datum.value == 0.1 ? '10⁻¹' : '')", "tickSize": -5, "title": "Tetracaine IC50 (μM)", "labelPadding": 15, "titlePadding": 4}}}},
   {"data": {"name": "one"}, "mark": {"type": "rule", "color": "#21b24b", "strokeWidth": 4, "strokeDash": [12, 6]}, "encoding": {"x": {"datum": 0}, "x2": {"datum": 600}, "y": {"datum": 0.3}}},
   {"data": {"name": "one"}, "mark": {"type": "rule", "color": "#21b24b", "strokeWidth": 4, "strokeDash": [12, 6]}, "encoding": {"x": {"datum": 0}, "x2": {"datum": 600}, "y": {"datum": 0.08}}},
   {"data": {"name": "one"}, "mark": {"type": "text", "fontSize": 18, "align": "left", "dx": 3}, "encoding": {"x": {"datum": 600}, "y": {"datum": 0.3}, "text": {"value": "0.3 μM"}}},
   {"data": {"name": "one"}, "mark": {"type": "text", "fontSize": 18, "align": "left", "dx": 3}, "encoding": {"x": {"datum": 600}, "y": {"datum": 0.08}, "text": {"value": "0.08 μM"}}},
   {"data": {"name": "one"}, "mark": {"type": "text", "fontSize": 20}, "encoding": {"x": {"datum": 288}, "y": {"datum": 0.678}, "text": {"value": "Tetracaine IC₅₀ values"}}},
   {"data": {"name": "one"}, "mark": {"type": "text", "fontSize": 18, "fontWeight": "bold", "align": "left", "dx": -68, "dy": -22}, "encoding": {"x": {"datum": 0}, "y": {"datum": 1}, "text": {"value": "C"}}}
  ]},
 {"width": 488, "height": 219,
  "layer": [
   {"data": {"name": "hist"}, "transform": [{"filter": "datum.g == 'Library'"}],
    "mark": {"type": "line", "interpolate": "monotone", "strokeWidth": 3, "color": "#0000ff"},
    "encoding": {
     "x": {"field": "s", "type": "quantitative", "scale": {"domain": [-0.5, 1.5], "range": [44, 488], "nice": false, "zero": false}, "axis": {"values": [-0.5,0,0.5,1,1.5], "labelExpr": "'' + datum.value", "title": "Normalized Score", "labelPadding": 20, "titlePadding": 5}},
     "y": {"field": "n", "type": "quantitative", "scale": {"domain": [0, 5], "range": [219, 9], "nice": false}, "axis": {"offset": -44, "values": [0,1,2,3,4,5], "title": "Number of wells", "labelPadding": 18, "titlePadding": 12}}}},
   {"data": {"name": "hist"}, "transform": [{"filter": "datum.g == 'DMSO'"}],
    "mark": {"type": "line", "interpolate": "monotone", "strokeWidth": 3, "color": "#000000"},
    "encoding": {"x": {"field": "s", "type": "quantitative"}, "y": {"field": "n", "type": "quantitative"}}},
   {"data": {"name": "hist"}, "transform": [{"filter": "datum.g == 'TTX'"}],
    "mark": {"type": "line", "interpolate": "monotone", "strokeWidth": 3, "color": "#ff0000"},
    "encoding": {"x": {"field": "s", "type": "quantitative"}, "y": {"field": "n", "type": "quantitative"}}},
   {"data": {"name": "one"}, "mark": {"type": "rule", "color": "#21b24b", "strokeWidth": 3, "strokeDash": [11, 7]}, "encoding": {"x": {"datum": 0.45}, "y": {"datum": 0}, "y2": {"datum": 5}}},
   {"data": {"name": "one"}, "mark": {"type": "text", "fontSize": 20, "align": "left", "color": "#1aa548"}, "encoding": {"x": {"datum": -0.09}, "y": {"datum": 5.57}, "text": {"value": "Hit selection"}}},
   {"data": {"name": "one"}, "mark": {"type": "text", "fontSize": 20, "align": "left", "color": "#1aa548"}, "encoding": {"x": {"datum": -0.09}, "y": {"datum": 4.9}, "text": {"value": "cut off"}}},
   {"data": {"name": "one"}, "mark": {"type": "text", "fontSize": 20, "align": "left", "color": "#0000ff"}, "encoding": {"x": {"datum": 0.527}, "y": {"datum": 4.84}, "text": {"value": "Library compound"}}},
   {"data": {"name": "one"}, "mark": {"type": "text", "fontSize": 20, "color": "#ff0000"}, "encoding": {"x": {"datum": -0.03}, "y": {"datum": 1.27}, "text": {"value": "TTX"}}},
   {"data": {"name": "one"}, "mark": {"type": "text", "fontSize": 20, "color": "#000000"}, "encoding": {"x": {"datum": 1.36}, "y": {"datum": 0.71}, "text": {"value": "DMSO"}}},
   {"data": {"name": "one"}, "mark": {"type": "text", "fontSize": 19, "align": "left", "baseline": "bottom", "dx": 3}, "encoding": {"x": {"datum": -0.5}, "y": {"datum": 5}, "text": {"value": "×10"}}},
   {"data": {"name": "one"}, "mark": {"type": "text", "fontSize": 14, "align": "left", "baseline": "bottom", "dy": -9}, "encoding": {"x": {"datum": -0.338}, "y": {"datum": 5}, "text": {"value": "4"}}},
   {"data": {"name": "one"}, "mark": {"type": "text", "fontSize": 18, "fontWeight": "bold", "align": "left", "dx": -71, "dy": -23}, "encoding": {"x": {"datum": -0.5}, "y": {"datum": 5}, "text": {"value": "D"}}}
  ]}
],
"config": {
 "font": "Liberation Sans",
 "view": {"stroke": null},
 "axis": {"grid": false, "domainColor": "#000000", "domainWidth": 2.5, "tickColor": "#000000", "tickWidth": 2.5, "tickSize": -7, "labelFontSize": 19, "titleFontSize": 19, "titleFontWeight": "normal", "labelColor": "#000000", "titleColor": "#000000", "labelFont": "Liberation Sans", "titleFont": "Liberation Sans", "labelFlush": false, "labelOverlap": false, "labelBound": false},
 "text": {"font": "Liberation Sans", "color": "#000000"}
}
}
